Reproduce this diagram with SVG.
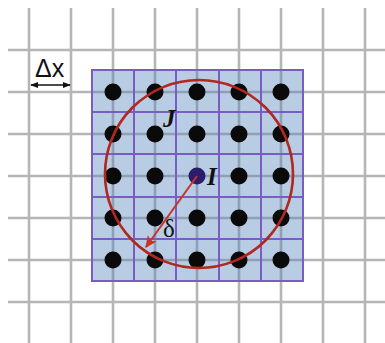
<svg xmlns="http://www.w3.org/2000/svg" width="385" height="343" viewBox="0 0 385 343">
<style>
.g{stroke:#b5b5b5;stroke-width:2.6;fill:none}
.gi{stroke:#8e9fb6;stroke-width:2.6;fill:none}
.p{stroke:#7a5cc4;stroke-width:2;fill:none}
.d{fill:#0a0a0a}
.lbl{font-family:"Liberation Serif",serif;font-style:italic;font-weight:bold;font-size:25px;fill:#111}
</style>
<defs>
<marker id="ah" viewBox="0 0 10 10" refX="9" refY="5" markerWidth="8" markerHeight="8" markerUnits="userSpaceOnUse" orient="auto-start-reverse">
<path d="M0,1 L10,5 L0,9 Z" fill="#111"/>
</marker>
<marker id="rh" viewBox="0 0 10 10" refX="9" refY="5" markerWidth="12" markerHeight="12" markerUnits="userSpaceOnUse" orient="auto">
<path d="M0,0.5 L10,5 L0,9.5 L2.5,5 Z" fill="#c8322b"/>
</marker>
</defs>
<g id="grid">
<path class="g" d="M29,8V343M71,8V343M113,8V343M155,8V343M197,8V343M239,8V343M281,8V343M323,8V343M365,8V343"/>
<path class="g" d="M8,50H385M8,92H385M8,134H385M8,176H385M8,218H385M8,260H385M8,302H385"/>
</g>
<g id="stencil">
<rect x="92" y="70" width="211" height="211" fill="#b8cce4"/>
<path class="gi" d="M113,70V281M155,70V281M197,70V281M239,70V281M281,70V281M92,92H303M92,134H303M92,176H303M92,218H303M92,260H303"/>
<path class="p" d="M134,70V281M176,70V281M219,70V281M261,70V281M92,112H303M92,154H303M92,197H303M92,239H303"/>
<rect class="p" x="92" y="70" width="211" height="211"/>
</g>
<g id="dots">
<circle class="d" cx="113" cy="92" r="8.5"/><circle class="d" cx="155" cy="92" r="8.5"/><circle class="d" cx="197" cy="92" r="8.5"/><circle class="d" cx="239" cy="92" r="8.5"/><circle class="d" cx="281" cy="92" r="8.5"/>
<circle class="d" cx="113" cy="134" r="8.5"/><circle class="d" cx="155" cy="134" r="8.5"/><circle class="d" cx="197" cy="134" r="8.5"/><circle class="d" cx="239" cy="134" r="8.5"/><circle class="d" cx="281" cy="134" r="8.5"/>
<circle class="d" cx="113" cy="176" r="8.5"/><circle class="d" cx="155" cy="176" r="8.5"/><circle cx="197" cy="176" r="8.5" fill="#2a1d6a"/><circle class="d" cx="239" cy="176" r="8.5"/><circle class="d" cx="281" cy="176" r="8.5"/>
<circle class="d" cx="113" cy="218" r="8.5"/><circle class="d" cx="155" cy="218" r="8.5"/><circle class="d" cx="197" cy="218" r="8.5"/><circle class="d" cx="239" cy="218" r="8.5"/><circle class="d" cx="281" cy="218" r="8.5"/>
<circle class="d" cx="113" cy="260" r="8.5"/><circle class="d" cx="155" cy="260" r="8.5"/><circle class="d" cx="197" cy="260" r="8.5"/><circle class="d" cx="239" cy="260" r="8.5"/><circle class="d" cx="281" cy="260" r="8.5"/>
</g>
<g id="neighborhood">
<circle cx="199" cy="174" r="94" fill="none" stroke="#b0281f" stroke-width="2.6"/>
</g>
<g id="connectors">
<line x1="197" y1="176" x2="146" y2="247" stroke="#c8322b" stroke-width="2" marker-end="url(#rh)"/>
<line x1="31" y1="85" x2="70" y2="85" stroke="#111" stroke-width="1.5" marker-start="url(#ah)" marker-end="url(#ah)"/>
</g>
<g id="labels">
<text x="35" y="77" font-family="Liberation Sans,sans-serif" font-size="25" fill="#111">Δx</text>
<text class="lbl" x="163" y="127">J</text>
<text class="lbl" x="207" y="185">I</text>
<text x="163" y="237" font-family="Liberation Serif,serif" font-size="25" fill="#111">δ</text>
</g>
</svg>
